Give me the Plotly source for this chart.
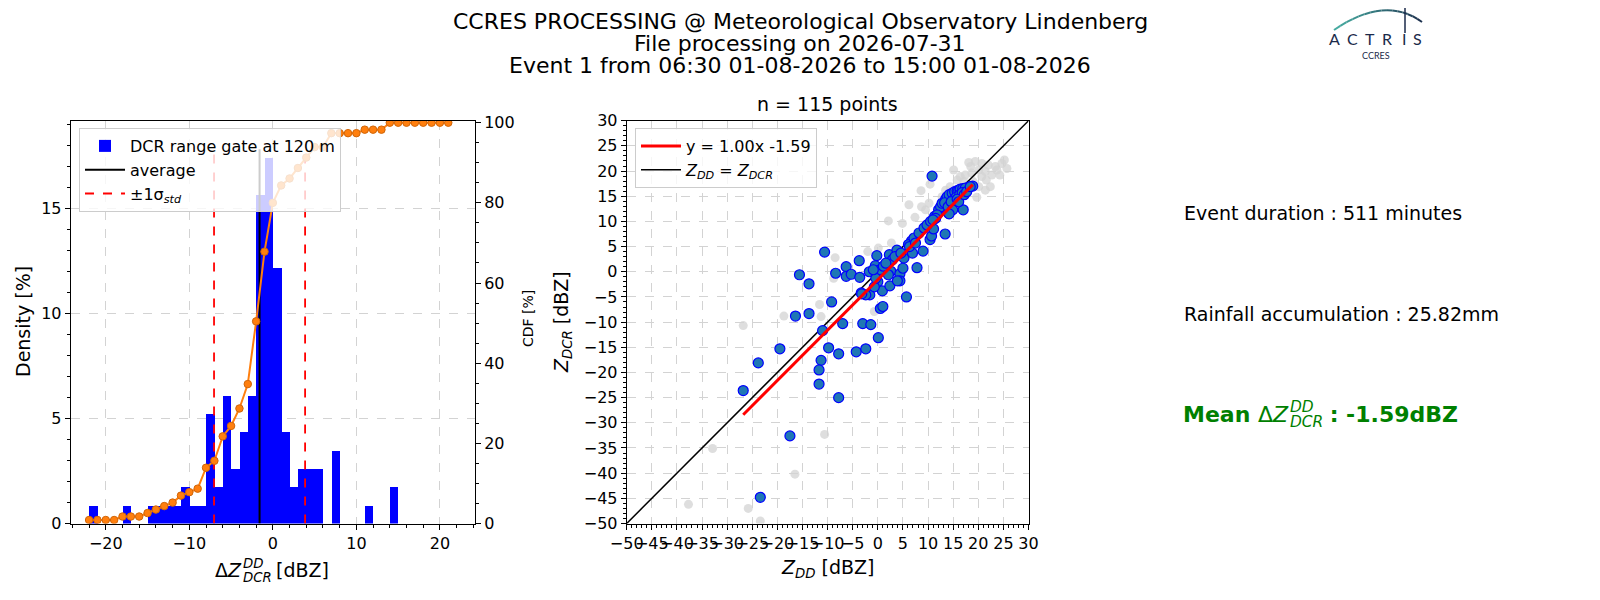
import numpy as np
import plotly.graph_objects as go

# ---- data ----
# histogram of dZ (DD - DCR), 1 dBZ bins, left edges -22 .. 21
bin_left = list(range(-22, 22))
bin_counts = [1, 0, 0, 0, 1, 0, 0, 1, 1, 1, 1, 2, 1, 1, 6, 2, 7, 3, 5, 7, 18, 20,
              14, 5, 2, 3, 3, 3, 0, 4, 0, 0, 0, 1, 0, 0, 2, 0, 0, 0, 0, 0, 0, 0]
mean_delta = -1.59
std_delta = 5.45
vline_top = 17.8

# scatter: points kept for the comparison (blue)
zdd_used = [10.8, -26.8, -23.8, -19.5, -23.4, -17.5, -16.4, -13.7, -15.6, -13.7,
            -10.6, -11.0, -11.3, -11.7, -11.7, -7.8, -9.8, -7.8, -7.0, -9.2,
            -8.4, -6.3, -6.3, -5.3, -3.7, -3.6, -3.0, -1.4, -4.3, -2.4,
            0.1, 0.5, 1.0, -1.6, -3.3, -1.7, -0.5, -0.2, 0.0, 0.9,
            0.4, 2.6, 2.4, 2.3, 3.8, 4.4, 4.4, 3.9, 5.2, 6.9,
            6.7, 5.7, 7.8, 9.0, 13.4, 10.4, 10.7, 11.1, 11.3, 17.0,
            14.1, 14.1, 18.9, 18.1, 12.1, 12.5, 12.8, 13.5, 13.8, 14.2,
            14.8, 15.3, 15.8, 16.1, 16.4, 16.9, 17.4, 13.3, 14.4, 15.1,
            15.6, 16.3, 16.8, 14.0, 14.6, 15.8, 14.9, 11.8, 11.5, 14.2,
            16.1, 17.2, 17.7, 18.4, 2.9, 3.4, 4.6, 6.1, 7.2, 8.2,
            9.2, 9.8, 10.5, 11.0, -0.7, -2.4, -3.2, -0.4, 1.1, 1.6,
            2.1, -0.9, 5.0, 6.3, 7.5]
zdcr_used = [19.0, -23.6, -18.1, -15.3, -44.8, -32.6, -8.8, -8.3, -0.6, -2.4,
             3.9, -11.7, -17.6, -19.5, -22.3, -25.0, -15.1, -16.3, -10.3, -6.0,
             -0.3, 1.0, -0.9, -0.5, 2.2, -1.1, -10.3, -10.5, -15.9, -15.3,
             -13.1, -7.3, -6.9, -4.6, -4.2, 0.0, 1.2, 3.2, -2.0, -3.8,
             0.4, 0.1, -2.8, 3.4, 4.3, -0.4, -1.8, -1.8, 2.7, 3.7,
             6.1, -5.0, 0.8, 4.1, 7.5, 6.4, 7.1, 8.5, 11.0, 12.3,
             11.6, 12.3, 17.0, 16.8, 12.3, 12.9, 13.6, 14.4, 14.9, 15.3,
             15.6, 15.9, 16.1, 16.2, 16.4, 16.5, 16.6, 13.7, 13.3, 14.3,
             14.8, 15.3, 15.7, 12.9, 13.9, 14.4, 12.3, 11.3, 10.6, 11.5,
             13.9, 15.3, 15.9, 16.9, 2.4, 3.0, 3.7, 5.4, 6.7, 7.7,
             8.7, 9.3, 10.0, 10.3, -3.0, -4.6, -4.4, -1.3, 1.1, 1.7,
             -0.6, 0.4, 0.7, 5.0, 5.7]

# scatter: other points (grey)
zdd_other = [-26.8, -32.9, -37.7, -25.8, -23.4, -16.5, -10.6, -18.7, -11.6, -11.3,
             -8.5, -8.8, -2.0, 0.1, -0.7, 2.1, 2.7, 4.9, 6.2, 7.4,
             8.6, 8.7, 9.5, 10.2, 10.4, 15.1, 18.1, 19.4, 20.7, 22.0,
             23.4, 24.7, 25.2, 25.7, 24.3, 22.4, 19.7, 18.7, 17.4, 16.4,
             20.1, 21.4, 22.7, 23.7, 20.7, 21.6, 19.0, 20.1, 21.4, 12.8,
             14.4, 13.5, 15.8, 17.1, 18.5]
zdcr_other = [-10.7, -35.1, -46.2, -47.0, -49.5, -40.2, -32.3, -8.8, -6.5, -8.9,
              2.8, -1.3, 4.0, 4.7, -7.9, 10.1, 5.7, 9.6, 13.3, 10.8,
              16.1, 12.9, 12.3, 13.6, 17.4, 20.2, 21.7, 21.9, 21.5, 21.2,
              20.9, 21.5, 22.2, 20.5, 19.2, 16.9, 14.8, 19.6, 19.2, 18.9,
              20.2, 19.9, 19.2, 20.2, 18.9, 18.2, 17.9, 16.9, 16.2, 14.9,
              16.9, 16.2, 18.2, 17.9, 20.9]

fit_slope = 1.00
fit_offset = -1.59
event_minutes = 511
rain_mm = 25.82

W, H = 1600, 600
OFF = 8  # page body margin, the figure starts 8px in


def px(p):
    return (p - OFF) / W


def py(p):
    return 1 - (p - OFF) / H


n_tot = sum(bin_counts)
density = np.array(bin_counts) / n_tot * 100
cdf = np.cumsum(bin_counts) / n_tot * 100
centers = np.array(bin_left) + 0.5

fig = go.Figure()

# histogram panel
fig.add_trace(go.Bar(x=centers, y=density, width=1, marker=dict(color="blue", line=dict(width=0)),
                     name="DCR range gate at 120 m", legend="legend", xaxis="x", yaxis="y"))
fig.add_trace(go.Scatter(x=[mean_delta, mean_delta], y=[0, vline_top], mode="lines",
                         line=dict(color="black", width=2), name="average",
                         legend="legend", xaxis="x", yaxis="y"))
lo, hi = mean_delta - std_delta, mean_delta + std_delta
fig.add_trace(go.Scatter(x=[lo, lo, None, hi, hi], y=[0, vline_top, None, 0, vline_top], mode="lines",
                         line=dict(color="red", width=1.8, dash="dash"),
                         name="±1σ<sub><i>std</i></sub>", legend="legend", xaxis="x", yaxis="y"))
fig.add_trace(go.Scatter(x=bin_left, y=cdf, mode="lines+markers",
                         line=dict(color="#ff7f0e", width=2),
                         marker=dict(size=7.5, color="#ff7f0e", line=dict(color="#d0660a", width=1)),
                         showlegend=False, xaxis="x", yaxis="y2"))

# scatter panel
fig.add_trace(go.Scatter(x=zdd_other, y=zdcr_other, mode="markers",
                         marker=dict(size=9, color="rgba(211,211,211,0.75)"),
                         showlegend=False, xaxis="x3", yaxis="y3"))
fig.add_trace(go.Scatter(x=[-50, 30], y=[-50, 30], mode="lines", line=dict(color="black", width=1.5),
                         name="<i>Z</i><sub><i>DD</i></sub> = <i>Z</i><sub><i>DCR</i></sub>",
                         legend="legend2", legendrank=2, xaxis="x3", yaxis="y3"))
fig.add_trace(go.Scatter(x=zdd_used, y=zdcr_used, mode="markers",
                         marker=dict(size=10, color="#1f77b4", line=dict(color="blue", width=1.2)),
                         showlegend=False, xaxis="x3", yaxis="y3"))
xf = [min(zdd_used), max(zdd_used)]
fig.add_trace(go.Scatter(x=xf, y=[fit_slope * v + fit_offset for v in xf], mode="lines",
                         line=dict(color="red", width=3),
                         name=f"y = {fit_slope:.2f}x {fit_offset:.2f}",
                         legend="legend2", legendrank=1, xaxis="x3", yaxis="y3"))

ax = dict(showline=True, linecolor="black", linewidth=1, mirror=True, ticks="outside", ticklen=5,
          tickcolor="black", tickfont=dict(size=16, color="black"), zeroline=False, automargin=False,
          showgrid=True, gridcolor="#d3d3d3", griddash="dash", gridwidth=1, tickangle=0)
minor = lambda d: dict(dtick=d, ticks="outside", ticklen=3, tickcolor="black", showgrid=False)

top, bot = 120.7, 523.5
fig.update_layout(
    width=W, height=H, margin=dict(l=0, r=0, t=0, b=0, autoexpand=False),
    paper_bgcolor="white", plot_bgcolor="white",
    font=dict(family="DejaVu Sans", color="black", size=16),
    bargap=0,
    xaxis=dict(ax, domain=[px(70.7), px(475)], range=[-24.2, 24.2], dtick=10, tick0=0,
               minor=minor(2), anchor="y"),
    yaxis=dict(ax, domain=[py(bot), py(top)], range=[0, 19.16], dtick=5, minor=minor(1), anchor="x"),
    yaxis2=dict(ax, overlaying="y", side="right", anchor="x", range=[0, 100.5], dtick=20,
                minor=minor(5), showgrid=False, mirror=False),
    xaxis3=dict(ax, domain=[px(626.7), px(1028.5)], range=[-50, 30], dtick=5, tick0=0,
                minor=minor(1), anchor="y3"),
    yaxis3=dict(ax, domain=[py(bot), py(top)], range=[-50, 30], dtick=5, tick0=0,
                minor=minor(1), anchor="x3"),
    legend=dict(x=px(79), y=py(128), xanchor="left", yanchor="top", bgcolor="rgba(255,255,255,0.8)",
                bordercolor="#cccccc", borderwidth=1, font=dict(size=16), itemwidth=40,
                tracegroupgap=0),
    legend2=dict(x=px(635), y=py(128), xanchor="left", yanchor="top", bgcolor="rgba(255,255,255,0.8)",
                 bordercolor="#cccccc", borderwidth=1, font=dict(size=16), itemwidth=40,
                 tracegroupgap=0),
)

ann = []


def add_text(text, x, y, size, **kw):
    d = dict(text=text, x=px(x), y=py(y), font=dict(size=size, color=kw.pop("color", "black"),
                                                      family=kw.pop("family", "DejaVu Sans")))
    d.update(kw)
    ann.append(d)


def add_dz(x_join, y_mid, size, prefix="", suffix="", color="black", bold=False):
    # Delta Z with stacked DD superscript and DCR subscript, joined at x_join
    b0, b1 = ("<b>", "</b>") if bold else ("", "")
    small = size * 0.7
    add_text(f"{b0}{prefix}{b1}Δ<i>Z</i>", x_join, y_mid, size, xanchor="right", color=color)
    add_text("<i>DD</i>", x_join - 3, y_mid - size * 0.33, small, xanchor="left", color=color)
    add_text("<i>DCR</i>", x_join - 3, y_mid + size * 0.38, small, xanchor="left", color=color)
    add_text(f"{b0}{suffix}{b1}", x_join - 3 + small * 2.1, y_mid, size,
             xanchor="left", color=color)


title_lines = ["CCRES PROCESSING @ Meteorological Observatory Lindenberg",
               "File processing on 2026-07-31",
               "Event 1 from 06:30 01-08-2026 to 15:00 01-08-2026"]
for txt, yy in zip(title_lines, [21.5, 43.6, 65.8]):
    add_text(txt, 800, yy, 22)
add_text(f"n = {len(zdd_used)} points", 827.6, 104, 19)

# axis titles
add_dz(243.5, 570, 19, suffix=" [dBZ]")
add_text("Density [%]", 23, 322, 19, textangle=-90)
add_text("CDF [%]", 528, 319, 14, textangle=-90)
add_text("<i>Z</i><sub><i>DD</i></sub> [dBZ]", 827.6, 568, 19)
add_text("<i>Z</i><sub><i>DCR</i></sub> [dBZ]", 562, 322, 19, textangle=-90)

# side texts
add_text(f"Event duration : {event_minutes} minutes", 1182, 213, 19, xanchor="left")
add_text(f"Rainfall accumulation : {rain_mm:.2f}mm", 1182, 314, 19, xanchor="left")
add_dz(1291, 414, 22, prefix="Mean ", suffix=f" : {mean_delta:.2f}dBZ", color="green", bold=True)

# ACTRIS logo (text + arc)
navy = "#1b2a4a"
for ch, xx in zip("ACTRIS", [1334.5, 1352, 1370, 1387, 1403.5, 1417.5]):
    add_text(ch, xx, 38.5, 16, color=navy, family="Lato")
add_text("CCRES", 1376, 55, 9, color=navy, family="Lato")

for a in ann:
    a.setdefault("xref", "paper")
    a.setdefault("yref", "paper")
    a.setdefault("showarrow", False)
    a.setdefault("xanchor", "center")
    a.setdefault("yanchor", "middle")
fig.update_layout(annotations=ann)

shapes = []
p0, pc, p1 = (1334, 30), (1385, -5), (1422, 22)
c0, c1 = np.array([70, 170, 160]), np.array([27, 42, 74])
ts = np.linspace(0, 1, 17)
for i in range(len(ts) - 1):
    pts = []
    for t in (ts[i], ts[i + 1]):
        bx = (1 - t) ** 2 * p0[0] + 2 * (1 - t) * t * pc[0] + t ** 2 * p1[0]
        by = (1 - t) ** 2 * p0[1] + 2 * (1 - t) * t * pc[1] + t ** 2 * p1[1]
        pts.append((bx, by))
    c = (c0 + (c1 - c0) * ts[i]).astype(int)
    shapes.append(dict(type="line", xref="paper", yref="paper", x0=px(pts[0][0]), y0=py(pts[0][1]),
                       x1=px(pts[1][0]), y1=py(pts[1][1]),
                       line=dict(color=f"rgb({c[0]},{c[1]},{c[2]})", width=2)))
shapes.append(dict(type="line", xref="paper", yref="paper", x0=px(1405), y0=py(OFF), x1=px(1405), y1=py(33),
                   line=dict(color=navy, width=1.5)))
fig.update_layout(shapes=shapes)

fig.write_html("out.html")
